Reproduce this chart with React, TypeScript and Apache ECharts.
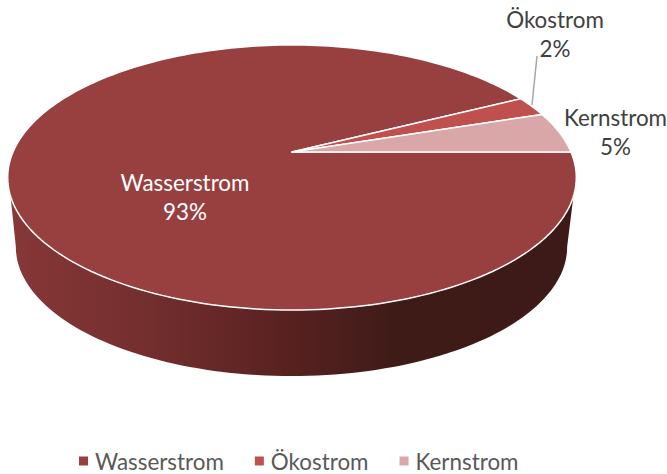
import React, { useEffect, useRef } from "react";
import * as echarts from "echarts";

const categories = ["Wasserstrom", "Ökostrom", "Kernstrom"];
const shares = [92.5, 2.45, 5.05];
const colors = ["#984040", "#c0504d", "#d9a7a7"];
const labelColors = ["#ffffff", "#404040", "#404040"];
const labelCenters = [[185, 197], [555, 34], [615.5, 132]];

const total = shares.reduce((a, b) => a + b, 0);
const FONT = "Lato, Carlito, sans-serif";
const K = 0.1925;

// Perspective projection of a flat disc seen from the front and above.
const top = { cx: 292, cy: 152, a: 279, b: 127.6 };
const bottom = { cx: 291.5, cy: 222, a: 270.5, b: 124.4 };

const project = (d: typeof top, theta: number) => {
  const X = Math.cos(theta);
  const Y = Math.sin(theta);
  const w = 1 - K * Y;
  return [d.cx + (d.a * X) / w, d.cy + (d.b * Y) / w];
};

const arc = (d: typeof top, from: number, to: number, steps = 240) => {
  const pts: number[][] = [];
  const n = Math.max(2, Math.ceil((steps * Math.abs(to - from)) / (2 * Math.PI)));
  for (let i = 0; i <= n; i++) pts.push(project(d, from + ((to - from) * i) / n));
  return pts;
};

const deg = Math.PI / 180;

const sideShape = () => {
  const upper = arc(top, 19 * deg, 161 * deg); // right shoulder to left shoulder
  const lower = arc(bottom, 169 * deg, 11 * deg);
  return [...upper, ...lower];
};

const sliceRenderer = (index: number) => (_params: any, api: any) => {
  const before = shares.slice(0, index).reduce((a, b) => a + b, 0);
  const value = api.value(0);
  const start = (before / total) * 2 * Math.PI;
  const end = ((before + value) / total) * 2 * Math.PI;
  const children: any[] = [];
  if (index === 0) {
    children.push({
      type: "polygon",
      shape: { points: sideShape() },
      style: {
        fill: new echarts.graphic.LinearGradient(0, 0, 1, 0, [
          { offset: 0, color: "#873737" },
          { offset: 0.25, color: "#732e2e" },
          { offset: 0.5, color: "#572120" },
          { offset: 0.68, color: "#3f1b18" },
          { offset: 1, color: "#3d1a17" },
        ]),
        stroke: "none",
      },
    });
  }
  children.push({
    type: "polygon",
    shape: { points: [[top.cx, top.cy], ...arc(top, start, end)] },
    style: { fill: colors[index], stroke: "#ffffff", lineWidth: 1.5, lineJoin: "round" },
  });
  return { type: "group", children };
};

const labelRenderer = (index: number) => (_params: any, api: any) => {
  const children: any[] = [
    {
      type: "text",
      x: labelCenters[index][0],
      y: labelCenters[index][1],
      style: {
        text: `${categories[index]}\n${Math.round((api.value(0) / total) * 100)}%`,
        fill: labelColors[index],
        font: `22.4px ${FONT}`,
        lineHeight: 29,
        align: "center",
        verticalAlign: "middle",
      },
    },
  ];
  if (index === 1) {
    children.unshift({
      type: "line",
      shape: { x1: 537, y1: 56, x2: 532, y2: 105 },
      style: { stroke: "#a6a6a6", lineWidth: 1.5 },
    });
  }
  return { type: "group", children };
};

export default function App() {
  const ref = useRef<HTMLDivElement>(null);
  useEffect(() => {
    document.body.style.margin = "0";
    const chart = echarts.init(ref.current!, undefined, { renderer: "svg" });
    chart.setOption({
      animation: false,
      backgroundColor: "#ffffff",
      legend: {
        data: categories,
        left: 79,
        top: 449,
        padding: 0,
        icon: "rect",
        itemWidth: 9,
        itemHeight: 9,
        itemGap: 31,
        selectedMode: false,
        textStyle: {
          color: "#595959",
          fontFamily: FONT,
          fontSize: 22.4,
          lineHeight: 24,
          padding: [0, 0, 0, 2],
        },
      },
      series: [
        ...categories.map((name, i) => ({
          type: "custom",
          name,
          coordinateSystem: "none",
          silent: true,
          itemStyle: { color: colors[i] },
          data: [shares[i]],
          renderItem: sliceRenderer(i),
          z: 2,
        })),
        ...categories.map((name, i) => ({
          type: "custom",
          name: `${name} label`,
          coordinateSystem: "none",
          silent: true,
          data: [shares[i]],
          renderItem: labelRenderer(i),
          z: 3,
        })),
      ],
    });
    return () => chart.dispose();
  }, []);
  return (
    <div
      ref={ref}
      style={{ position: "absolute", left: 0, top: 0, width: 667, height: 474 }}
    />
  );
}
